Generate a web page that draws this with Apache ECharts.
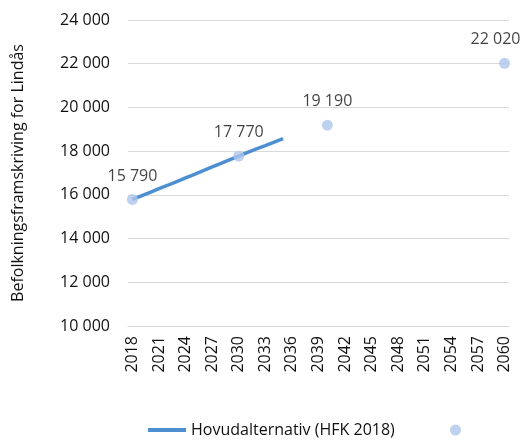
<!DOCTYPE html>
<html><head><meta charset="utf-8">
<script src="https://cdn.jsdelivr.net/npm/echarts@6/dist/echarts.min.js"></script>
<style>html,body{margin:0;padding:0;background:#fff}#c{width:524px;height:440px}</style>
</head><body><div id="c"></div>
<script>
const years = [];
for (let y = 2018; y <= 2060; y++) years.push(String(y));
const lineName = 'Hovudalternativ (HFK 2018)';
const lineYears = ['2018','2019','2020','2021','2022','2023','2024','2025','2026','2027','2028','2029','2030','2031','2032','2033','2034','2035'];
const lineValues = [15790,15950,16110,16280,16440,16610,16780,16940,17110,17280,17440,17610,17770,17940,18100,18250,18410,18570];
const pointYears = ['2018','2030','2040','2060'];
const pointValues = [15790,17770,19190,22020];
const yTitle = 'Befolkningsframskriving for Lindås';

const fmt = v => String(v).replace(/\B(?=(\d{3})+(?!\d))/g, ' ');
const FONT = 'Open Sans';
const TXT = '#111';
const lineMap = {}; lineYears.forEach((y,i)=>lineMap[y]=lineValues[i]);
const lineData = years.map(y => y in lineMap ? lineMap[y] : null);
const pointData = pointYears.map((y,i)=>{
  const item = {value:[y, pointValues[i]]};
  if (i === pointYears.length - 1) item.label = {offset:[-9,0]};
  return item;
});

const chart = echarts.init(document.getElementById('c'), null, {renderer:'canvas'});
chart.setOption({
  animation:false,
  textStyle:{fontFamily:FONT},
  grid:{left:128,right:15,top:20,bottom:114},
  legend:[{
    left:143, bottom:-3, itemWidth:38, itemHeight:4, itemGap:10,
    data:[{name:lineName,icon:'rect'}],
    textStyle:{fontFamily:FONT,fontSize:16,color:TXT}
  },{
    left:445, bottom:-3, itemWidth:11, itemHeight:11,
    data:[{name:' ',icon:'circle'}],
    textStyle:{fontFamily:FONT,fontSize:16,color:TXT}
  }],
  xAxis:{
    type:'category', data:years, boundaryGap:true,
    axisLine:{show:true,lineStyle:{color:'#d9d9d9',width:1}},
    axisTick:{show:false},
    axisLabel:{interval:2,rotate:90,fontFamily:FONT,fontSize:16,color:TXT,margin:10}
  },
  yAxis:{
    type:'value', min:10000, max:24000, interval:2000,
    name:yTitle, nameLocation:'middle', nameGap:102, nameRotate:90,
    nameTextStyle:{fontFamily:FONT,fontSize:16,color:TXT},
    axisLine:{show:false}, axisTick:{show:false},
    splitLine:{lineStyle:{color:'#d9d9d9',width:1}},
    axisLabel:{formatter:fmt,fontFamily:FONT,fontSize:16,color:TXT,margin:18}
  },
  series:[{
    name:lineName, type:'line', data:lineData, symbol:'none', connectNulls:false,
    lineStyle:{color:'#4e8fd2',width:3.5}, itemStyle:{color:'#4e8fd2'}, z:2
  },{
    name:' ', type:'scatter', data:pointData, symbolSize:11,
    itemStyle:{color:'#aec6ea'}, z:3,
    label:{show:true,position:'top',distance:10,formatter:p=>fmt(p.value[1]),
      fontFamily:FONT,fontSize:16,color:TXT}
  }]
});
</script></body></html>
